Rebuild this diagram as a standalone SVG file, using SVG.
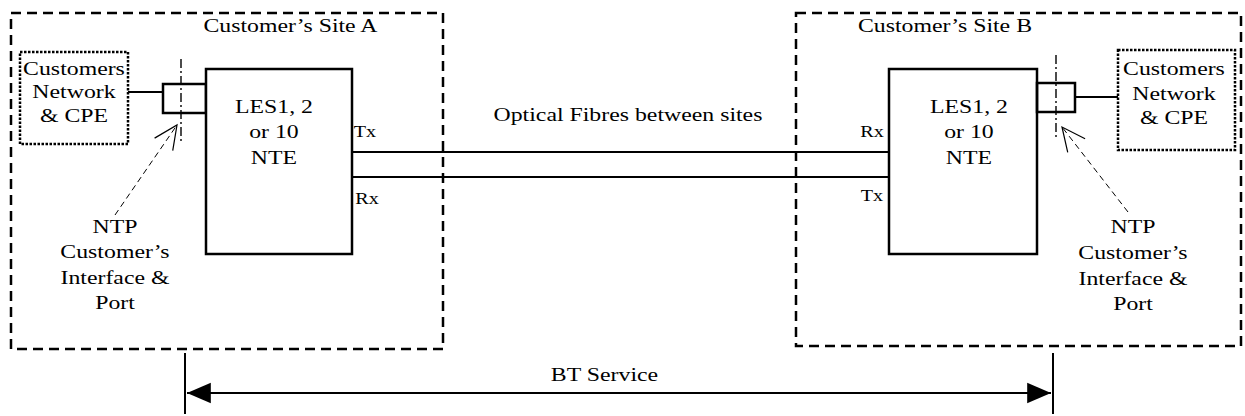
<svg xmlns="http://www.w3.org/2000/svg" width="1245" height="416" viewBox="0 0 1245 416">
<style>
.t{font-family:"Liberation Serif","Times New Roman",serif;font-size:19.5px;fill:#000;text-anchor:middle;transform-box:fill-box;transform-origin:center;transform:scaleX(1.22)}
.s{font-size:16.5px}
.site{fill:none;stroke:#000;stroke-width:2.5;stroke-dasharray:10,6}
.cpe{fill:none;stroke:#000;stroke-width:2.5;stroke-dasharray:2.5,1.5}
.box{fill:#fff;stroke:#000;stroke-width:2.5}
.port{fill:none;stroke:#000;stroke-width:2.5}
.ln{stroke:#000;stroke-width:2;fill:none}
.dd{stroke:#000;stroke-width:1.4;stroke-dasharray:9,3,2,3;fill:none}
.ntp{stroke:#000;stroke-width:1;stroke-dasharray:6,4;fill:none;marker-end:url(#open)}
</style>
<defs>
<marker id="open" markerUnits="userSpaceOnUse" markerWidth="30" markerHeight="30" viewBox="-28 -15 30 30" refX="0" refY="0" orient="auto" overflow="visible">
<path d="M-23.5,-11 L0,0 L-23.5,11" fill="none" stroke="#000" stroke-width="1.2" stroke-dasharray="none"/>
</marker>
<marker id="solid" markerUnits="userSpaceOnUse" markerWidth="26" markerHeight="22" viewBox="-23 -10 24 20" refX="0" refY="0" orient="auto-start-reverse" overflow="visible">
<path d="M-22,-9.5 L0,0 L-22,9.5 Z" fill="#000"/>
</marker>
</defs>

<g id="site-a">
<rect class="site" x="11" y="13" width="432" height="336"/>
<text class="t" x="290.5" y="32.5">Customer’s Site A</text>
</g>
<g id="site-b">
<rect class="site" x="796" y="13" width="445" height="333"/>
<text class="t" x="945" y="32.5">Customer’s Site B</text>
</g>

<g id="connectors">
<line class="ln" x1="352" y1="152" x2="889" y2="152"/>
<line class="ln" x1="352" y1="177" x2="889" y2="177"/>
<line class="ln" x1="128" y1="92" x2="163" y2="92"/>
<line class="ln" x1="1075" y1="97" x2="1118" y2="97"/>
<line class="dd" x1="181" y1="59" x2="181" y2="142"/>
<line class="dd" x1="1056" y1="55" x2="1056" y2="137"/>
<line class="ntp" x1="115" y1="215" x2="177" y2="125"/>
<line class="ntp" x1="1128" y1="212" x2="1062" y2="127"/>
<line class="ln" x1="185" y1="353" x2="185" y2="414" stroke-width="1.5"/>
<line class="ln" x1="1053" y1="353" x2="1053" y2="414" stroke-width="1.5"/>
<line class="ln" x1="187" y1="393" x2="1051" y2="393" marker-start="url(#solid)" marker-end="url(#solid)" stroke-width="2.5"/>
</g>

<g id="cpe-a">
<rect class="cpe" x="20" y="52" width="108" height="92"/>
<text class="t" x="74" y="75">Customers</text>
<text class="t" x="74" y="98.5">Network</text>
<text class="t" x="74" y="122">&amp; CPE</text>
</g>
<g id="port-a">
<rect class="port" x="163" y="84" width="43" height="29"/>
</g>
<g id="nte-a">
<rect class="box" x="206" y="69" width="146" height="185"/>
<text class="t" x="274" y="113">LES1, 2</text>
<text class="t" x="274" y="138.5">or 10</text>
<text class="t" x="274" y="164.5">NTE</text>
</g>
<g id="nte-a-ports">
<text class="t s" x="365" y="137">Tx</text>
<text class="t s" x="367" y="204">Rx</text>
</g>
<g id="ntp-a">
<text class="t" x="115" y="233">NTP</text>
<text class="t" x="115" y="258.5">Customer’s</text>
<text class="t" x="115" y="284">Interface &amp;</text>
<text class="t" x="115" y="309.5">Port</text>
</g>

<g id="fibre-label">
<text class="t" x="628" y="121">Optical Fibres between sites</text>
</g>

<g id="nte-b">
<rect class="box" x="889" y="69" width="148" height="185"/>
<text class="t" x="969" y="113">LES1, 2</text>
<text class="t" x="969" y="138.5">or 10</text>
<text class="t" x="969" y="164.5">NTE</text>
</g>
<g id="nte-b-ports">
<text class="t s" x="872" y="137">Rx</text>
<text class="t s" x="872" y="201">Tx</text>
</g>
<g id="port-b">
<rect class="port" x="1037" y="83" width="38" height="29"/>
</g>
<g id="cpe-b">
<rect class="cpe" x="1118" y="50" width="117" height="100" stroke-width="3"/>
<text class="t" x="1174" y="75.5">Customers</text>
<text class="t" x="1174" y="100">Network</text>
<text class="t" x="1174" y="124.5">&amp; CPE</text>
</g>
<g id="ntp-b">
<text class="t" x="1133" y="233">NTP</text>
<text class="t" x="1133" y="259">Customer’s</text>
<text class="t" x="1133" y="285">Interface &amp;</text>
<text class="t" x="1133" y="310">Port</text>
</g>

<g id="bt-service">
<text class="t" x="604.5" y="381">BT Service</text>
</g>
</svg>
